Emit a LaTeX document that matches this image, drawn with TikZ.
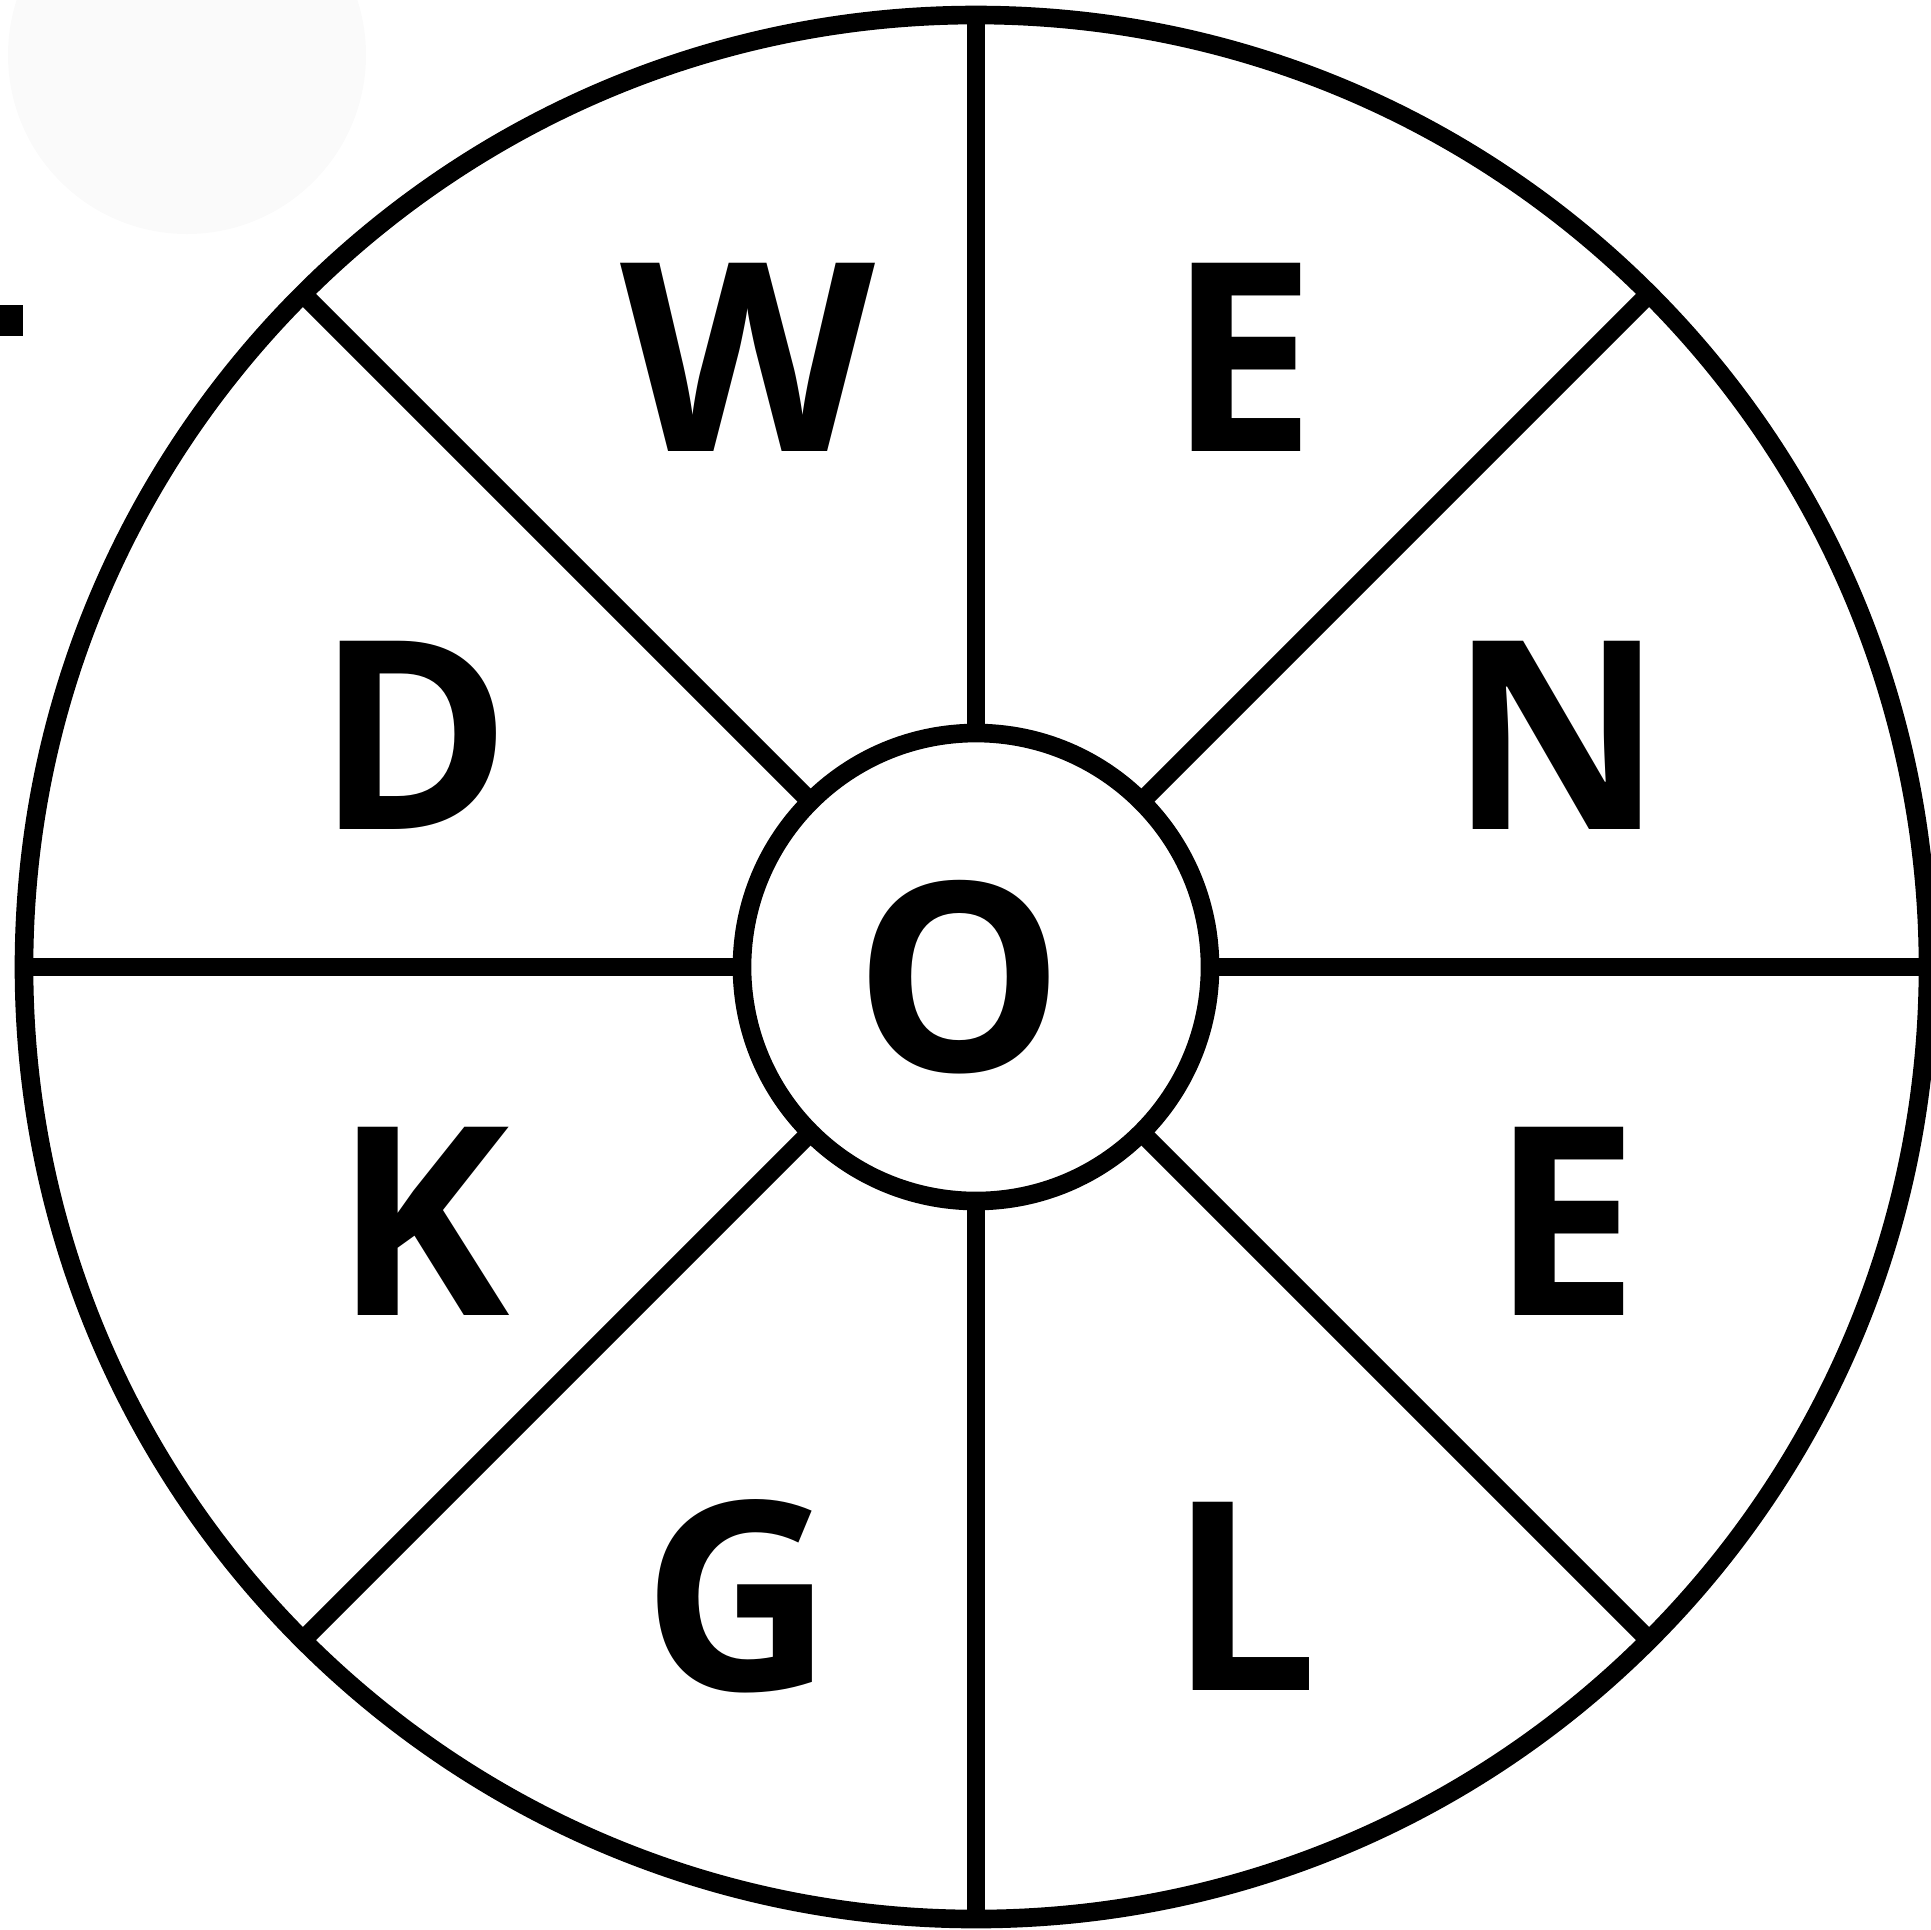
\documentclass[tikz,border=0pt]{standalone}
\usepackage{fontspec}
\setmainfont{Open Sans}
\definecolor{ghost}{HTML}{FAFAFA}
\tikzset{
  rim/.style={line width=5.3pt, black},
  letter/.style={font=\fontsize{75}{75}\selectfont\bfseries, inner sep=0pt, anchor=base}
}
\begin{document}
\begin{tikzpicture}[x=0.01cm, y=-0.01cm]
    \useasboundingbox (0,0) rectangle (1931,1929);

    % Faint blob and stray mark
    \fill[ghost] (187,55) circle (179);
    \fill[black] (0,305) rectangle (23,336);

    % Wheel
    \begin{scope}[shift={(976,967)}]
        \draw[rim] (0,0) circle (952);
        \draw[rim] (0,0) circle (234);
        \foreach \a in {0,45,...,315}
            \draw[rim] (\a:234) -- (\a:952);
    \end{scope}

    % Letters
    \node[letter] (w)  at (748,451)  {W};
    \node[letter] (e1) at (1242,451) {E};
    \node[letter] (d)  at (414,829)  {D};
    \node[letter] (n)  at (1557,829) {N};
    \node[letter] (o)  at (959,1071) {O};
    \node[letter] (k)  at (422,1315) {K};
    \node[letter] (e2) at (1565,1315) {E};
    \node[letter] (g)  at (738,1690) {G};
    \node[letter] (l)  at (1244,1690) {L};
\end{tikzpicture}
\end{document}
